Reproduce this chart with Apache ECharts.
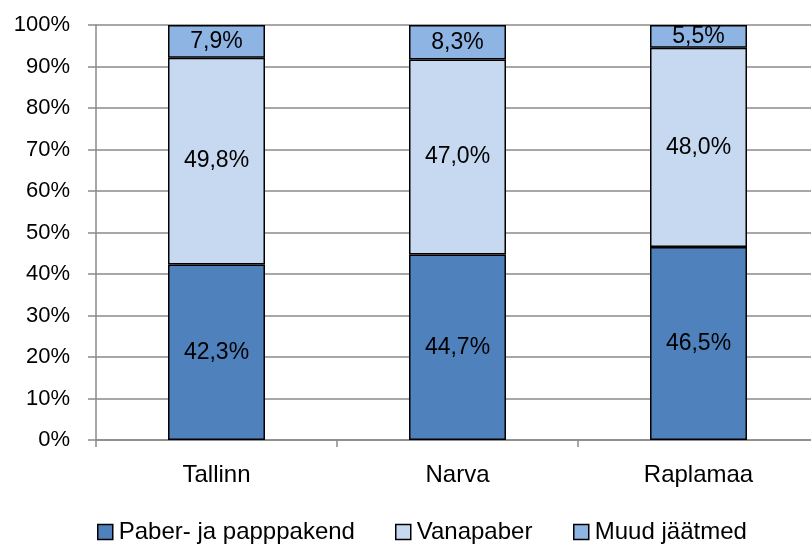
<!DOCTYPE html>
<html>
<head>
<meta charset="utf-8">
<script src="https://cdn.jsdelivr.net/npm/echarts@6/dist/echarts.min.js"></script>
<style>
html,body{margin:0;padding:0;background:#fff;}
#c{width:811px;height:546px;}
</style>
</head>
<body>
<div id="c"></div>
<script>
const categories = ["Tallinn", "Narva", "Raplamaa"];
const seriesNames = ["Paber- ja papppakend", "Vanapaber", "Muud jäätmed"];
const paberPakend = [42.3, 44.7, 46.5];
const vanapaber = [49.8, 47.0, 48.0];
const muudJaatmed = [7.9, 8.3, 5.5];
const yTicks = [0, 10, 20, 30, 40, 50, 60, 70, 80, 90, 100];

const FONT = "Liberation Sans";
const colors = ["#4F81BD", "#C6D9F1", "#8DB4E2"];
const gridColor = "#8A8A8A";

function fmt(v) { return v.toFixed(1).replace(".", ",") + "%"; }

const values = [paberPakend, vanapaber, muudJaatmed];
const series = seriesNames.map((name, i) => ({
  name: name,
  type: "bar",
  stack: "total",
  barWidth: 97,
  data: values[i],
  itemStyle: { color: colors[i], borderColor: "#000", borderWidth: 1.5 },
  label: {
    show: true,
    position: "inside",
    color: "#000",
    fontFamily: FONT,
    fontSize: 23,
    formatter: p => fmt(p.value)
  },
  emphasis: { disabled: true }
}));

const legendLefts = [97, 395, 573];
const legends = seriesNames.map((name, i) => ({
  data: [{ name: name, itemStyle: { color: colors[i], borderColor: "#000", borderWidth: 1.5 } }],
  left: legendLefts[i],
  top: 520,
  icon: "rect",
  itemWidth: 15,
  itemHeight: 15,
  itemGap: 0,
  padding: 0,
  selectedMode: false,
  textStyle: { fontFamily: FONT, fontSize: 24, color: "#000", padding: [0, 0, 0, 1] }
}));

const chart = echarts.init(document.getElementById("c"), null, { renderer: "canvas" });
chart.setOption({
  animation: false,
  backgroundColor: "#fff",
  grid: { left: 96, width: 723, top: 25, bottom: 106, containLabel: false, outerBoundsMode: "none" },
  legend: legends,
  xAxis: {
    type: "category",
    data: categories,
    axisLine: { lineStyle: { color: gridColor, width: 1.5 } },
    axisTick: { show: true, length: 7, lineStyle: { color: gridColor, width: 1.5 } },
    axisLabel: { color: "#000", fontFamily: FONT, fontSize: 24, margin: 23 }
  },
  yAxis: {
    type: "value",
    min: 0,
    max: 100,
    interval: 10,
    axisLine: { show: true, lineStyle: { color: gridColor, width: 1.5 } },
    axisTick: { show: true, length: 8, lineStyle: { color: gridColor, width: 1.5 } },
    splitLine: { show: true, lineStyle: { color: gridColor, width: 1.5 } },
    axisLabel: {
      color: "#000", fontFamily: FONT, fontSize: 22, margin: 26,
      formatter: v => yTicks.indexOf(v) >= 0 ? v + "%" : ""
    }
  },
  series: series
});
</script>
</body>
</html>
